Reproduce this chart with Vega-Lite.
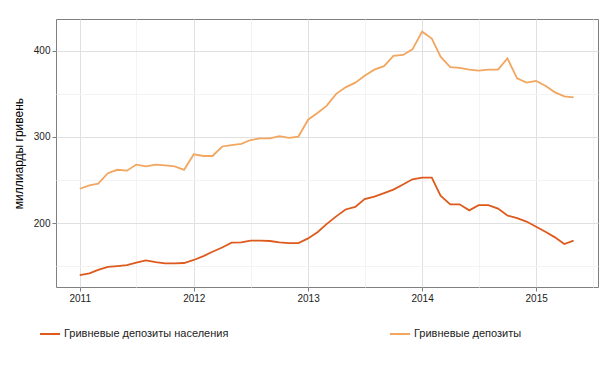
{
  "$schema": "https://vega.github.io/schema/vega-lite/v6.json",
  "autosize": {"type": "none"},
  "padding": {"left": 56, "top": 19, "right": 12, "bottom": 82},
  "width": 542,
  "height": 268,
  "background": "white",
  "config": {
    "font": "Liberation Sans",
    "view": {"stroke": "#7f7f7f", "strokeWidth": 1}
  },
  "data": {
    "values": [
      {"date":"2011-01-01","p":140,"a":240},{"date":"2011-02-01","p":142,"a":244},{"date":"2011-03-01","p":146,"a":246},{"date":"2011-04-01","p":149.5,"a":258},{"date":"2011-05-01","p":150.5,"a":262},{"date":"2011-06-01","p":151.5,"a":261},{"date":"2011-07-01","p":154.5,"a":268},{"date":"2011-08-01","p":157,"a":266},{"date":"2011-09-01","p":155,"a":268},{"date":"2011-10-01","p":153.5,"a":267},{"date":"2011-11-01","p":153.5,"a":266},{"date":"2011-12-01","p":154,"a":262},
      {"date":"2012-01-01","p":157.5,"a":280},{"date":"2012-02-01","p":162,"a":278},{"date":"2012-03-01","p":167,"a":278},{"date":"2012-04-01","p":172,"a":289},{"date":"2012-05-01","p":177.5,"a":290.5},{"date":"2012-06-01","p":178,"a":292},{"date":"2012-07-01","p":180,"a":296.5},{"date":"2012-08-01","p":180,"a":298.5},{"date":"2012-09-01","p":179.5,"a":298.5},{"date":"2012-10-01","p":178,"a":301},{"date":"2012-11-01","p":177,"a":299},{"date":"2012-12-01","p":177,"a":300.5},
      {"date":"2013-01-01","p":182.5,"a":320},{"date":"2013-02-01","p":190,"a":328},{"date":"2013-03-01","p":199,"a":336},{"date":"2013-04-01","p":208,"a":350},{"date":"2013-05-01","p":216,"a":357.5},{"date":"2013-06-01","p":219,"a":363},{"date":"2013-07-01","p":228,"a":371},{"date":"2013-08-01","p":231,"a":378},{"date":"2013-09-01","p":235,"a":382},{"date":"2013-10-01","p":239,"a":394},{"date":"2013-11-01","p":245,"a":395},{"date":"2013-12-01","p":251,"a":401.5},
      {"date":"2014-01-01","p":253,"a":422},{"date":"2014-02-01","p":253,"a":414},{"date":"2014-03-01","p":232,"a":393},{"date":"2014-04-01","p":222,"a":381},{"date":"2014-05-01","p":222,"a":380},{"date":"2014-06-01","p":215,"a":378},{"date":"2014-07-01","p":221,"a":377},{"date":"2014-08-01","p":221,"a":378},{"date":"2014-09-01","p":217,"a":378},{"date":"2014-10-01","p":209,"a":391},{"date":"2014-11-01","p":206,"a":368},{"date":"2014-12-01","p":202,"a":363},
      {"date":"2015-01-01","p":196,"a":365},{"date":"2015-02-01","p":190,"a":359},{"date":"2015-03-01","p":184,"a":352},{"date":"2015-04-01","p":176,"a":347},{"date":"2015-05-01","p":180,"a":346}
    ]
  },
  "transform": [
    {"fold": ["p", "a"], "as": ["key", "value"]},
    {"lookup": "key", "from": {"data": {"values": [{"key": "p", "series": "Гривневые депозиты населения"}, {"key": "a", "series": "Гривневые депозиты"}]}, "key": "key", "fields": ["series"]}}
  ],
  "mark": {"type": "line", "strokeWidth": 1.8, "interpolate": "linear"},
  "encoding": {
    "x": {
      "field": "date", "type": "temporal",
      "scale": {"type": "utc", "domain": [{"year": 2010, "month": 10, "date": 17, "utc": true}, {"year": 2015, "month": 7, "date": 18, "utc": true}], "nice": false},
      "axis": {
        "title": null,
        "values": [
          {"year": 2011, "month": 1, "date": 1, "utc": true}, {"year": 2011, "month": 7, "date": 1, "utc": true},
          {"year": 2012, "month": 1, "date": 1, "utc": true}, {"year": 2012, "month": 7, "date": 1, "utc": true},
          {"year": 2013, "month": 1, "date": 1, "utc": true}, {"year": 2013, "month": 7, "date": 1, "utc": true},
          {"year": 2014, "month": 1, "date": 1, "utc": true}, {"year": 2014, "month": 7, "date": 1, "utc": true},
          {"year": 2015, "month": 1, "date": 1, "utc": true}, {"year": 2015, "month": 7, "date": 1, "utc": true}
        ],
        "labelExpr": "utcmonth(datum.value) == 0 ? utcFormat(datum.value, '%Y') : ''",
        "domain": false,
        "gridColor": {"condition": {"test": "utcmonth(datum.value) == 6", "value": "#f3f3f3"}, "value": "#e0e0e0"},
        "tickOpacity": {"condition": {"test": "utcmonth(datum.value) == 6", "value": 0}, "value": 1},
        "tickColor": "#7f7f7f",
        "tickSize": 4,
        "labelFontSize": 10,
        "labelColor": "#222",
        "labelPadding": 2,
        "labelFlush": false
      }
    },
    "y": {
      "field": "value", "type": "quantitative",
      "scale": {"domain": [126.2, 436.7], "nice": false, "zero": false},
      "axis": {
        "title": "миллиарды гривень",
        "titleFontSize": 12,
        "titleFontWeight": "normal",
        "titleColor": "#000",
        "titlePadding": 8,
        "values": [150, 200, 250, 300, 350, 400],
        "labelExpr": "datum.value % 100 == 0 ? datum.label : ''",
        "domain": false,
        "gridColor": {"condition": {"test": "datum.value % 100 != 0", "value": "#f3f3f3"}, "value": "#e0e0e0"},
        "tickOpacity": {"condition": {"test": "datum.value % 100 != 0", "value": 0}, "value": 1},
        "tickColor": "#7f7f7f",
        "tickSize": 4,
        "labelFontSize": 10,
        "labelColor": "#222",
        "labelPadding": 2
      }
    },
    "color": {
      "field": "series", "type": "nominal",
      "scale": {"domain": ["Гривневые депозиты населения", "Гривневые депозиты"], "range": ["#dd5a1c", "#f2a660"]},
      "legend": {
        "title": null,
        "orient": "none",
        "legendX": -17,
        "legendY": 304,
        "direction": "horizontal",
        "columns": 2,
        "columnPadding": 157,
        "symbolType": "stroke",
        "symbolSize": 400,
        "symbolStrokeWidth": 2,
        "labelFontSize": 11,
        "labelColor": "#222",
        "labelOffset": 3,
        "labelLimit": 400
      }
    }
  }
}
